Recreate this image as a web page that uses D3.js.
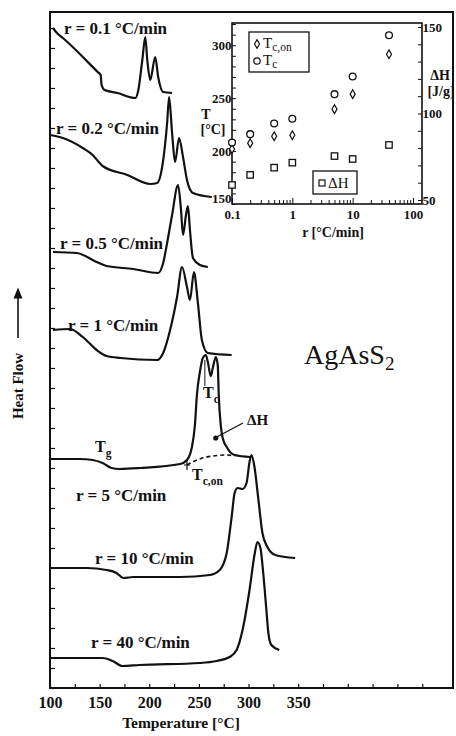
<!DOCTYPE html>
<html>
<head>
<meta charset="utf-8">
<script src="https://cdn.jsdelivr.net/npm/d3@7"></script>
<style>
  body { margin: 0; background: #fff; }
  text { font-family: "Liberation Serif", "Times New Roman", serif; fill: #111; }
</style>
</head>
<body>
<svg id="chart" width="456" height="736"></svg>
<script>
// ---- main DSC traces: [temperature °C, heat flow (a.u., stacked)] ----
const trace01 = [[103, 33.0], [107, 32.75], [113, 32.5], [148, 30.8], [151, 30.65], [152, 30.15], [155, 29.9],
  [168, 29.75], [186, 29.5], [189, 29.9], [193, 31.4], [196, 32.55], [198, 31.4], [201, 30.4], [206, 31.55],
  [209, 30.55], [214, 29.8], [223, 29.75]];
const trace02 = [[100, 27.65], [113, 27.5], [133, 27.0], [143, 26.65], [150, 26.25], [153, 26.1], [178, 25.65],
  [201, 25.2], [208, 25.25], [213, 26.05], [218, 28.25], [220, 29.55], [223, 27.75], [226, 26.3], [230, 27.5],
  [234, 26.55], [238, 25.4], [244, 24.75], [263, 24.55]];
const trace05 = [[103, 21.8], [127, 21.75], [147, 21.3], [157, 21.1], [184, 20.95], [209, 20.75], [214, 21.25],
  [218, 22.25], [223, 23.65], [229, 25.15], [232, 23.9], [234, 22.65], [237, 23.65], [239, 24.1], [241, 22.9],
  [244, 21.5], [251, 21.15], [259, 21.05]];
const trace1 = [[103, 17.9], [120, 17.95], [133, 17.55], [147, 16.9], [157, 16.6], [171, 16.5], [208, 16.4],
  [214, 16.75], [221, 17.9], [228, 19.55], [233, 21.05], [238, 20.05], [241, 19.4], [245, 20.8], [249, 19.25],
  [253, 17.4], [259, 16.75], [283, 16.65]];
const trace5 = [[100, 11.45], [130, 11.45], [143, 11.4], [153, 11.25], [162, 11.0], [170, 10.95], [191, 11.0],
  [231, 11.2], [238, 11.4], [243, 12.05], [246, 13.15], [248, 14.65], [251, 15.8], [254, 16.5], [257, 16.65],
  [259, 16.3], [262, 15.6], [264, 16.0], [267, 16.55], [269, 16.15], [270, 14.65], [272, 13.15], [274, 12.5],
  [278, 12.05], [286, 11.65], [302, 11.55]];
const trace10 = [[100, 6.0], [137, 6.0], [157, 5.9], [167, 5.75], [174, 5.5], [184, 5.55], [231, 5.55],
  [261, 5.65], [271, 5.9], [278, 6.75], [283, 8.55], [286, 9.75], [289, 10.0], [294, 9.95], [298, 10.25],
  [301, 11.3], [303, 11.65], [306, 11.05], [310, 9.4], [314, 7.75], [319, 7.05], [327, 6.65], [347, 6.5]];
const trace40 = [[100, 1.5], [153, 1.5], [163, 1.35], [173, 1.1], [190, 1.15], [251, 1.25], [268, 1.35],
  [281, 1.55], [288, 1.9], [294, 2.9], [301, 4.9], [306, 6.65], [309, 7.3], [312, 7.0], [315, 5.65],
  [318, 3.9], [320, 2.75], [323, 2.15], [331, 1.9]];
// dashed interpolated baseline under the r = 5 °C/min peak
const baseline5 = [[238, 11.15], [248, 11.4], [264, 11.6], [278, 11.65], [286, 11.6]];

const traces = [trace01, trace02, trace05, trace1, trace5, trace10, trace40];
const rateLabels = ["r = 0.1 °C/min", "r = 0.2 °C/min", "r = 0.5 °C/min", "r = 1 °C/min",
  "r = 5 °C/min", "r = 10 °C/min", "r = 40 °C/min"];
const tempTicks = [100, 150, 200, 250, 300, 350];

// ---- inset: characteristic values vs heating rate ----
const rates = [0.1, 0.2, 0.5, 1, 5, 10, 40];
const tcOnset = [202, 207.5, 214, 215, 239.6, 253.8, 291.5];
const tcPeak = [208, 216, 226, 230.5, 253.8, 270.5, 309.4];
const deltaH = [58.7, 64.5, 68.7, 71.6, 75.4, 73.7, 81.8];
const insetTTicks = [150, 200, 250, 300];
const insetHTicks = [50, 100, 150];
const insetRTicks = [0.1, 1, 10, 100];

const svg = d3.select("#chart");
const ink = "#111";

// main plot scales
const x = d3.scaleLinear().domain([100, 506]).range([50, 453]);
const y = d3.scaleLinear().domain([0, 33.8]).range([688, 12]);

const line = d3.line()
  .x(d => x(d[0]))
  .y(d => y(d[1]))
  .curve(d3.curveMonotoneX);

// frame
svg.append("rect")
  .attr("x", 50).attr("y", 12).attr("width", 403).attr("height", 676)
  .attr("fill", "none").attr("stroke", ink).attr("stroke-width", 2);

// bottom axis, ticks pointing inward
const xAxis = d3.axisBottom(x)
  .tickValues(d3.range(100, 500, 25))
  .tickSize(-4)
  .tickFormat(d => tempTicks.includes(d) ? d : "");
const gx = svg.append("g").attr("transform", "translate(0,688)").call(xAxis);
gx.select(".domain").remove();
gx.selectAll("line").attr("stroke", ink).attr("stroke-width", 1.2);
gx.selectAll("text")
  .attr("dy", "1.05em")
  .style("font-size", "16px").style("font-weight", "bold");

// left axis: unlabelled ticks
const yAxis = d3.axisLeft(y).tickValues(d3.range(0, 34, 1)).tickSize(-5).tickFormat("");
const gy = svg.append("g").attr("transform", "translate(50,0)").call(yAxis);
gy.select(".domain").remove();
gy.selectAll("line").attr("stroke", ink).attr("stroke-width", 1.2);

// axis titles
svg.append("text")
  .attr("x", 181).attr("y", 728)
  .attr("text-anchor", "middle")
  .style("font-size", "15.5px").style("font-weight", "bold")
  .text("Temperature [°C]");

svg.append("text")
  .attr("transform", "translate(23,386) rotate(-90)")
  .attr("text-anchor", "middle")
  .style("font-size", "15px").style("font-weight", "bold")
  .text("Heat Flow");

svg.append("defs").append("marker")
  .attr("id", "arrow").attr("viewBox", "0 0 10 10")
  .attr("refX", 5).attr("refY", 5)
  .attr("markerWidth", 7).attr("markerHeight", 7)
  .attr("orient", "auto")
  .append("path").attr("d", "M0,1 L10,5 L0,9 Z").attr("fill", ink);

svg.append("line")
  .attr("x1", 18).attr("y1", 338).attr("x2", 18).attr("y2", 293)
  .attr("stroke", ink).attr("stroke-width", 1.6)
  .attr("marker-end", "url(#arrow)");

// traces
svg.append("g")
  .selectAll("path")
  .data(traces)
  .join("path")
  .attr("d", line)
  .attr("fill", "none")
  .attr("stroke", ink)
  .attr("stroke-width", 2.2)
  .attr("stroke-linejoin", "round");

svg.append("path")
  .attr("d", line(baseline5))
  .attr("fill", "none")
  .attr("stroke", ink)
  .attr("stroke-width", 1.6)
  .attr("stroke-dasharray", "4,3");

// rate labels (left x, baseline y)
const labelPos = [[64, 34], [56, 134], [60, 249], [68, 331], [76, 501], [95, 564], [91, 648]];
svg.append("g")
  .selectAll("text")
  .data(rateLabels)
  .join("text")
  .attr("x", (d, i) => labelPos[i][0])
  .attr("y", (d, i) => labelPos[i][1])
  .style("font-size", "17px").style("font-weight", "bold")
  .text(d => d);

// annotations on the r = 5 trace
function subLabel(px, py, main, sub, size) {
  const t = svg.append("text").attr("x", px).attr("y", py)
    .style("font-size", size + "px").style("font-weight", "bold");
  t.append("tspan").text(main);
  t.append("tspan").attr("dy", size * 0.3).style("font-size", (size * 0.72) + "px").text(sub);
  return t;
}
subLabel(95, 452, "T", "g", 16);
subLabel(192, 480, "T", "c,on", 16);
subLabel(203, 398, "T", "c", 16);

svg.append("line")
  .attr("x1", x(256)).attr("y1", y(16.4)).attr("x2", x(256)).attr("y2", 386)
  .attr("stroke", ink).attr("stroke-width", 1);

// onset marker
svg.append("path")
  .attr("d", `M${x(238)},${y(11.15) - 5}V${y(11.15) + 5}M${x(238) - 3},${y(11.15)}H${x(238) + 3}`)
  .attr("stroke", ink).attr("stroke-width", 1.2);

// ΔH pointer
svg.append("circle").attr("cx", x(267)).attr("cy", y(12.5)).attr("r", 2.6).attr("fill", ink);
svg.append("line")
  .attr("x1", x(268)).attr("y1", y(12.55)).attr("x2", 243).attr("y2", 423)
  .attr("stroke", ink).attr("stroke-width", 1.3);
svg.append("text").attr("x", 247).attr("y", 425)
  .style("font-size", "15px").style("font-weight", "bold").text("ΔH");

// compound name
const name = svg.append("text").attr("x", 304).attr("y", 364).style("font-size", "28px");
name.append("tspan").text("AgAsS");
name.append("tspan").attr("dy", 6).style("font-size", "19px").text("2");

// ---- inset ----
const ix = d3.scaleLog().domain([0.1, 141]).range([232, 422]);
const iT = d3.scaleLinear().domain([150, 321]).range([204, 23]);
const iH = d3.scaleLinear().domain([47.7, 152.3]).range([204, 23]);

const inset = svg.append("g");
inset.append("rect")
  .attr("x", 232).attr("y", 23).attr("width", 190).attr("height", 181)
  .attr("fill", "#fff").attr("stroke", ink).attr("stroke-width", 1.6);

const ixAxis = d3.axisBottom(ix).tickSize(-4)
  .tickFormat(d => insetRTicks.includes(d) ? d : "");
const gix = inset.append("g").attr("transform", "translate(0,204)").call(ixAxis);
gix.selectAll("text").attr("dy", "0.95em").style("font-size", "13px").style("font-weight", "bold");
gix.selectAll(".tick").filter(d => insetRTicks.includes(d)).select("line").attr("y2", -6);

const iTAxis = d3.axisLeft(iT).tickValues(d3.range(150, 321, 10)).tickSize(-4)
  .tickFormat(d => insetTTicks.includes(d) ? d : "");
const giT = inset.append("g").attr("transform", "translate(232,0)").call(iTAxis);
giT.selectAll("text").attr("dx", "0.2em").style("font-size", "13px").style("font-weight", "bold");
giT.selectAll(".tick").filter(d => d === 150).select("text").attr("dy", "-0.1em");

const iHAxis = d3.axisRight(iH).tickValues(d3.range(50, 151, 10)).tickSize(-4)
  .tickFormat(d => insetHTicks.includes(d) ? d : "");
const giH = inset.append("g").attr("transform", "translate(422,0)").call(iHAxis);
giH.selectAll("text").attr("dx", "-0.2em").style("font-size", "13px").style("font-weight", "bold");

[gix, giT, giH].forEach(g => {
  g.select(".domain").remove();
  g.selectAll("line").attr("stroke", ink).attr("stroke-width", 1);
});

inset.append("text").attr("x", 333).attr("y", 237).attr("text-anchor", "middle")
  .style("font-size", "14px").style("font-weight", "bold").text("r [°C/min]");
inset.append("text").attr("x", 206).attr("y", 119).attr("text-anchor", "middle")
  .style("font-size", "14px").style("font-weight", "bold").text("T");
inset.append("text").attr("x", 213).attr("y", 134).attr("text-anchor", "middle")
  .style("font-size", "14px").style("font-weight", "bold").text("[°C]");
inset.append("text").attr("x", 440).attr("y", 80).attr("text-anchor", "middle")
  .style("font-size", "14px").style("font-weight", "bold").text("ΔH");
inset.append("text").attr("x", 441).attr("y", 96).attr("text-anchor", "middle")
  .style("font-size", "14px").style("font-weight", "bold").text("[J/g]");

const diamond = d3.symbol().type(d3.symbolDiamond).size(22);
inset.append("g").selectAll("path")
  .data(rates)
  .join("path")
  .attr("transform", (d, i) => `translate(${ix(d)},${iT(tcOnset[i])})`)
  .attr("d", diamond)
  .attr("fill", "#fff").attr("stroke", ink).attr("stroke-width", 1.2);

inset.append("g").selectAll("circle")
  .data(rates)
  .join("circle")
  .attr("cx", d => ix(d))
  .attr("cy", (d, i) => iT(tcPeak[i]))
  .attr("r", 3.4)
  .attr("fill", "#fff").attr("stroke", ink).attr("stroke-width", 1.3);

inset.append("g").selectAll("rect")
  .data(rates)
  .join("rect")
  .attr("x", d => ix(d) - 3.2)
  .attr("y", (d, i) => iH(deltaH[i]) - 3.2)
  .attr("width", 6.4).attr("height", 6.4)
  .attr("fill", "#fff").attr("stroke", ink).attr("stroke-width", 1.3);

// legends
inset.append("rect").attr("x", 249).attr("y", 32).attr("width", 60).attr("height", 40)
  .attr("fill", "#fff").attr("stroke", ink).attr("stroke-width", 1.3);
inset.append("path").attr("transform", "translate(257,44)").attr("d", diamond)
  .attr("fill", "#fff").attr("stroke", ink).attr("stroke-width", 1.2);
inset.append("circle").attr("cx", 257).attr("cy", 61).attr("r", 3.2)
  .attr("fill", "#fff").attr("stroke", ink).attr("stroke-width", 1.2);
const l1 = inset.append("text").attr("x", 263).attr("y", 48).style("font-size", "15px");
l1.append("tspan").text("T");
l1.append("tspan").attr("dy", 3).style("font-size", "11.5px").text("c,on");
const l2 = inset.append("text").attr("x", 263).attr("y", 65).style("font-size", "15px");
l2.append("tspan").text("T");
l2.append("tspan").attr("dy", 3).style("font-size", "11.5px").text("c");

inset.append("rect").attr("x", 313).attr("y", 171).attr("width", 44).attr("height", 23)
  .attr("fill", "#fff").attr("stroke", ink).attr("stroke-width", 1.3);
inset.append("rect").attr("x", 319).attr("y", 180).attr("width", 6).attr("height", 6)
  .attr("fill", "#fff").attr("stroke", ink).attr("stroke-width", 1.2);
inset.append("text").attr("x", 328).attr("y", 188).style("font-size", "15px").text("ΔH");
</script>
</body>
</html>
